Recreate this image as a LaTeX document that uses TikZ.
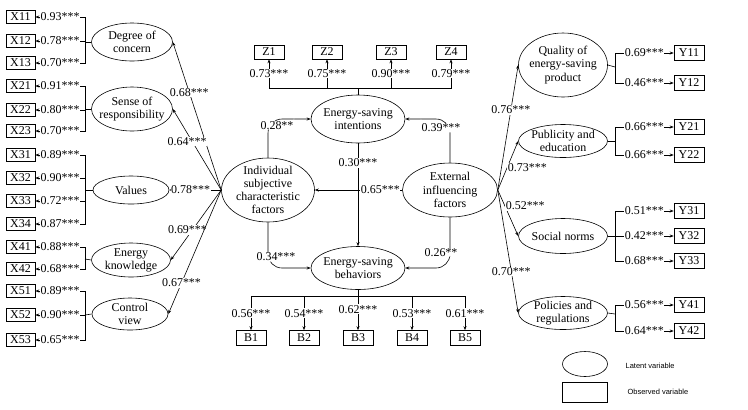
\documentclass[tikz,border=0pt]{standalone}
\usepackage{fontspec}
\setmainfont{Liberation Serif}
\setsansfont{Liberation Sans}
\usetikzlibrary{shapes.geometric,arrows.meta}
\tikzset{
  latent/.style={ellipse,draw,inner sep=0pt},
  obs/.style={rectangle,draw,inner sep=0pt,minimum width=30bp,minimum height=14bp},
  obsl/.style={obs,minimum width=29bp,minimum height=13bp},
  coef/.style={fill=white,inner sep=0.6pt},
  legtxt/.style={anchor=west,font=\sffamily\fontsize{7.5}{9}\selectfont},
}
\begin{document}
\begin{tikzpicture}[x=1bp,y=-1bp,>={Stealth[length=4pt,width=3pt]},line width=0.6pt,font=\fontsize{12}{13.3}\selectfont]
  \useasboundingbox (0,0) rectangle (748,409);

  % 中心潜变量
  \node[latent,minimum width=94bp,minimum height=48bp,label={[align=center]center:Energy-saving\\intentions}] (esi) at (358,119) {};
  \node[latent,minimum width=94bp,minimum height=43bp,label={[align=center]center:Energy-saving\\behaviors}] (esb) at (358,268) {};
  \node[latent,minimum width=93bp,minimum height=64bp,label={[align=center]center:Individual\\subjective\\characteristic\\factors}] (iscf) at (268,190) {};
  \node[latent,minimum width=95bp,minimum height=54bp,label={[align=center]center:External\\influencing\\factors}] (eif) at (450,190) {};

  % 中心路径
  \draw[->,rounded corners=14bp] (iscf.north) |- node[coef,pos=0.5,xshift=9bp,yshift=-7bp]{0.28**} (esi.west);
  \draw[->,rounded corners=14bp] (eif.north) |- node[coef,pos=0.5,xshift=-9bp,yshift=-9bp]{0.39***} (esi.east);
  \draw[->,rounded corners=14bp] (iscf.south) |- node[coef,pos=0.5,xshift=8bp,yshift=11bp]{0.34***} (esb.west);
  \draw[->,rounded corners=14bp] (eif.south) |- node[coef,pos=0.5,xshift=-9bp,yshift=15bp]{0.26**} (esb.east);
  \draw[->] (eif.west) -- node[coef,pos=0.25]{0.65***} (iscf.east);
  \draw[->] (esi.south) -- node[coef,pos=0.19]{0.30***} (esb.north);

  % 意向观测变量
  \node[obs] (z1) at (269,52) {Z1};
  \node[obs] (z2) at (327,52) {Z2};
  \node[obs] (z3) at (391,52) {Z3};
  \node[obs] (z4) at (451,52) {Z4};
  \coordinate (jz) at (358,88);
  \draw (esi.north) -- (jz);
  \draw[->] (jz) -| node[coef,pos=0.75]{0.73***} (z1.south);
  \draw[->] (jz) -| node[coef,pos=0.75]{0.75***} (z2.south);
  \draw[->] (jz) -| node[coef,pos=0.75]{0.90***} (z3.south);
  \draw[->] (jz) -| node[coef,pos=0.75]{0.79***} (z4.south);

  % 行为观测变量
  \node[obs,minimum height=15bp] (b1) at (251,338) {B1};
  \node[obs,minimum height=15bp] (b2) at (304,338) {B2};
  \node[obs,minimum height=15bp] (b3) at (358,338) {B3};
  \node[obs,minimum height=15bp] (b4) at (412,338) {B4};
  \node[obs,minimum height=15bp] (b5) at (465,338) {B5};
  \coordinate (jb) at (358,296);
  \draw (esb.south) -- (jb);
  \draw[->] (jb) -| node[coef,pos=0.75]{0.56***} (b1.north);
  \draw[->] (jb) -| node[coef,pos=0.75]{0.54***} (b2.north);
  \draw[->] (jb) -| node[coef,pos=0.75,yshift=4bp]{0.62***} (b3.north);
  \draw[->] (jb) -| node[coef,pos=0.75]{0.53***} (b4.north);
  \draw[->] (jb) -| node[coef,pos=0.75]{0.61***} (b5.north);

  % 左侧潜变量
  \node[latent,minimum width=81bp,minimum height=38bp,label={[align=center]center:Degree of\\concern}] (con) at (132,42) {};
  \node[latent,minimum width=81bp,minimum height=44bp,label={[align=center]center:Sense of\\responsibility}] (resp) at (132,109) {};
  \node[latent,minimum width=76bp,minimum height=28bp,label={center:Values}] (val) at (131,190) {};
  \node[latent,minimum width=79bp,minimum height=34bp,label={[align=center]center:Energy\\knowledge}] (know) at (131,260) {};
  \node[latent,minimum width=76bp,minimum height=32bp,label={[align=center]center:Control\\view}] (ctrl) at (130,314) {};

  \draw[->] (iscf.west) -- node[coef,pos=0.66]{0.68***} (con.east);
  \draw[->] (iscf.west) -- node[coef,pos=0.6,xshift=-5bp]{0.64***} (resp.east);
  \draw[->] (iscf.west) -- node[coef,pos=0.59]{0.78***} (val.east);
  \draw[->] (iscf.west) -- node[coef,pos=0.57,xshift=-5bp]{0.69***} (know.east);
  \draw[->] (iscf.west) -- node[coef,pos=0.75]{0.67***} (ctrl.east);

  % 左侧观测变量
  \node[obsl] (x11) at (20.5,17) {X11};
  \node[obsl] (x12) at (20.5,41) {X12};
  \node[obsl] (x13) at (20.5,63) {X13};
  \node[obsl] (x21) at (20.5,86) {X21};
  \node[obsl] (x22) at (20.5,110) {X22};
  \node[obsl] (x23) at (20.5,131) {X23};
  \node[obsl] (x31) at (20.5,155) {X31};
  \node[obsl] (x32) at (20.5,178) {X32};
  \node[obsl] (x33) at (20.5,201) {X33};
  \node[obsl] (x34) at (20.5,224) {X34};
  \node[obsl] (x41) at (20.5,247) {X41};
  \node[obsl] (x42) at (20.5,269) {X42};
  \node[obsl] (x51) at (20.5,291) {X51};
  \node[obsl] (x52) at (20.5,315) {X52};
  \node[obsl] (x53) at (20.5,340) {X53};

  \coordinate (jcon) at (85,42);
  \coordinate (jresp) at (85,109);
  \coordinate (jval) at (85,190);
  \coordinate (jknow) at (85,259);
  \coordinate (jctrl) at (85,315);
  \draw (con.west) -- (jcon);
  \draw (resp.west) -- (jresp);
  \draw (val.west) -- (jval);
  \draw (know.west) -- (jknow);
  \draw (ctrl.west) -- (jctrl);

  \draw[->] (jcon) |- node[coef,pos=0.75]{0.93***} (x11.east);
  \draw[->] (jcon) |- node[coef,pos=0.75]{0.78***} (x12.east);
  \draw[->] (jcon) |- node[coef,pos=0.75]{0.70***} (x13.east);
  \draw[->] (jresp) |- node[coef,pos=0.75]{0.91***} (x21.east);
  \draw[->] (jresp) |- node[coef,pos=0.75]{0.80***} (x22.east);
  \draw[->] (jresp) |- node[coef,pos=0.75]{0.70***} (x23.east);
  \draw[->] (jval) |- node[coef,pos=0.75]{0.89***} (x31.east);
  \draw[->] (jval) |- node[coef,pos=0.75]{0.90***} (x32.east);
  \draw[->] (jval) |- node[coef,pos=0.75]{0.72***} (x33.east);
  \draw[->] (jval) |- node[coef,pos=0.75]{0.87***} (x34.east);
  \draw[->] (jknow) |- node[coef,pos=0.75]{0.88***} (x41.east);
  \draw[->] (jknow) |- node[coef,pos=0.75]{0.68***} (x42.east);
  \draw[->] (jctrl) |- node[coef,pos=0.75]{0.89***} (x51.east);
  \draw[->] (jctrl) |- node[coef,pos=0.75]{0.90***} (x52.east);
  \draw[->] (jctrl) |- node[coef,pos=0.75]{0.65***} (x53.east);

  % 右侧潜变量
  \node[latent,minimum width=89bp,minimum height=64bp,label={[align=center]center:Quality of\\energy-saving\\product}] (qual) at (563,65) {};
  \node[latent,minimum width=89bp,minimum height=33bp,label={[align=center]center:Publicity and\\education}] (pub) at (563,141) {};
  \node[latent,minimum width=89bp,minimum height=35bp,label={center:Social norms}] (soc) at (563,236) {};
  \node[latent,minimum width=89bp,minimum height=33bp,label={[align=center]center:Policies and\\regulations}] (pol) at (563,313) {};

  \draw[->] (eif.east) -- node[coef,pos=0.64]{0.76***} (qual.west);
  \draw[->] (eif.east) -- node[coef,pos=0.45,anchor=west]{0.73***} (pub.west);
  \draw[->] (eif.east) -- node[coef,pos=0.35,anchor=west]{0.52***} (soc.west);
  \draw[->] (eif.east) -- node[coef,pos=0.66]{0.70***} (pol.west);

  % 右侧观测变量
  \node[obs,minimum height=15bp] (y11) at (689,53) {Y11};
  \node[obs,minimum height=15bp] (y12) at (689,83) {Y12};
  \node[obs,minimum height=15bp] (y21) at (689,127) {Y21};
  \node[obs,minimum height=15bp] (y22) at (689,155) {Y22};
  \node[obs,minimum height=15bp] (y31) at (689,211) {Y31};
  \node[obs,minimum height=15bp] (y32) at (689,236) {Y32};
  \node[obs,minimum height=15bp] (y33) at (689,261) {Y33};
  \node[obs,minimum height=15bp] (y41) at (689,305) {Y41};
  \node[obs,minimum height=15bp] (y42) at (689,331) {Y42};

  \coordinate (jqual) at (615,67);
  \coordinate (jpub) at (615,141);
  \coordinate (jsoc) at (615,236);
  \coordinate (jpol) at (615,314);
  \draw (qual.east) -- (jqual);
  \draw (pub.east) -- (jpub);
  \draw (soc.east) -- (jsoc);
  \draw (pol.east) -- (jpol);

  \draw[->] (jqual) |- node[coef,pos=0.75]{0.69***} (y11.west);
  \draw[->] (jqual) |- node[coef,pos=0.75]{0.46***} (y12.west);
  \draw[->] (jpub) |- node[coef,pos=0.75]{0.66***} (y21.west);
  \draw[->] (jpub) |- node[coef,pos=0.75]{0.66***} (y22.west);
  \draw[->] (jsoc) |- node[coef,pos=0.75]{0.51***} (y31.west);
  \draw[->] (jsoc) |- node[coef,pos=0.75]{0.42***} (y32.west);
  \draw[->] (jsoc) |- node[coef,pos=0.75]{0.68***} (y33.west);
  \draw[->] (jpol) |- node[coef,pos=0.75]{0.56***} (y41.west);
  \draw[->] (jpol) |- node[coef,pos=0.75]{0.64***} (y42.west);

  % 图例
  \node[latent,minimum width=45bp,minimum height=25bp] (lgl) at (585,364) {};
  \node[obs,minimum width=45bp,minimum height=20bp] (lgo) at (585,392) {};
  \node[legtxt] (lgltxt) at (622,366) {Latent variable};
  \node[legtxt] (lgotxt) at (624,392) {Observed variable};
\end{tikzpicture}
\end{document}
